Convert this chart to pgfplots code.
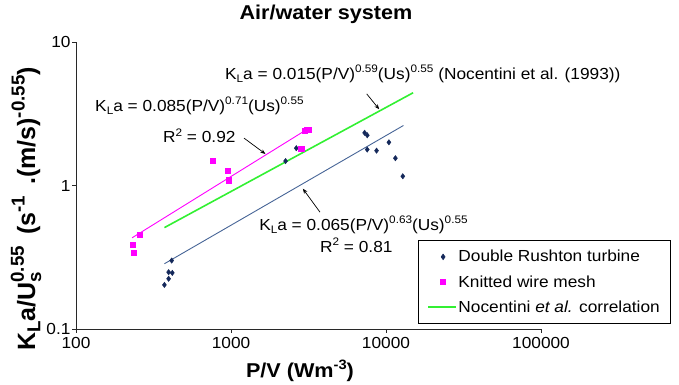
\documentclass[border=0pt]{standalone}
\usepackage{fontspec}
\setmainfont[FakeStretch=1.08]{Liberation Sans}
\newfontfamily\plainsans{Liberation Sans}
\usepackage{pgfplots}
\pgfplotsset{compat=1.18}
\usetikzlibrary{arrows.meta}
\definecolor{navy}{RGB}{20,40,90}
\definecolor{fitblue}{RGB}{70,100,150}
\definecolor{mag}{RGB}{255,0,255}
\definecolor{lgreen}{RGB}{50,240,50}
\definecolor{axgray}{RGB}{40,40,40}
\makeatletter
\newcommand\relsmall{\dimen@=\f@size pt\relax\dimen@=0.68\dimen@\fontsize{\strip@pt\dimen@}{\strip@pt\dimen@}\selectfont}
\newcommand\relmid{\dimen@=\f@size pt\relax\dimen@=0.75\dimen@\fontsize{\strip@pt\dimen@}{\strip@pt\dimen@}\selectfont}
\makeatother
\newcommand\sps[1]{\raisebox{0.8ex}{\relsmall #1}}
\newcommand\sbs[1]{\raisebox{-0.4ex}{\relsmall #1}}
\newcommand\ysps[1]{\raisebox{0.8ex}{\relmid #1}}
\newcommand\ysbs[1]{\raisebox{-0.4ex}{\relmid #1}}
\newcommand\yssp[2]{\rlap{\raisebox{-0.45ex}{\relmid #2}}\raisebox{0.85ex}{\relmid #1}}
\newcommand\annfont{\fontsize{16}{16}\selectfont}
\begin{document}
\begin{tikzpicture}
\begin{axis}[
  scale only axis, width=465pt, height=287pt,
  xmode=log, ymode=log,
  xmin=100, xmax=100000, ymin=0.1, ymax=10,
  axis x line=bottom, axis y line=left,
  axis line style={-, axgray, line width=1pt},
  xtick={100,1000,10000,100000}, xticklabels={100,1000,10000,100000},
  ytick={0.1,1,10}, yticklabels={0.1,1,10},
  xminorticks=false, yminorticks=false,
  tick align=outside, major tick length=4pt,
  tick style={axgray, line width=0.8pt},
  /pgf/number format/assume math mode=true,
  tick label style={font=\fontsize{16}{16}\selectfont},
  xticklabel style={yshift=-1pt},
  yticklabel style={xshift=2pt},
  clip=false,
  title={\bfseries Air/water system},
  title style={font=\fontsize{20}{20}\selectfont, at={(axis description cs:0.5376,1.0592)}, anchor=base},
  xlabel={\bfseries P/V (Wm\sps{-3})},
  xlabel style={font=\fontsize{20}{20}\selectfont, at={(axis description cs:0.4817,-0.146)}, anchor=center},
  ylabel={\plainsans\bfseries K\ysbs{L}a/U\yssp{0.55}{s}\, (s\ysps{-1}\, .(m/s)\ysps{-0.55})},
  ylabel style={font=\fontsize{25}{25}\selectfont, at={(axis description cs:-0.1075,0.418)}, anchor=center},
  legend style={font=\fontsize{16}{16}\selectfont, draw=black, line width=0.6pt,
    at={(axis description cs:0.7355,0.310)}, anchor=north west,
    inner xsep=9pt, inner ysep=8.5pt, row sep=9pt,
    nodes={inner sep=1.5pt}, cells={anchor=west}},
]
\addplot[only marks, mark=diamond*, mark size=2.7pt, color=navy,
  legend image code/.code={\path[draw=none,fill=none] (0pt,0pt) -- (28pt,0pt);
    \fill[navy] (15pt,2.8pt) -- (17pt,0pt) -- (15pt,-2.8pt) -- (13pt,0pt) -- cycle;}]
  coordinates {(2636,1.82) (2249,1.48) (414,0.30) (396,0.249) (418,0.246) (396,0.224) (372,0.203)
  (7278,2.33) (7566,2.24) (7566,1.78) (8690,1.75) (10440,2.00) (11500,1.55) (12830,1.16)};
\addlegendentry{Double Rushton turbine}
\addplot[only marks, mark=square*, mark size=2.6pt, color=mag,
  legend image code/.code={\path[draw=none,fill=none] (0pt,0pt) -- (28pt,0pt);
    \fill[mag] (12.4pt,-2.6pt) rectangle (17.6pt,2.6pt);}]
  coordinates {(3000,2.42) (3080,2.45) (3180,2.45) (2838,1.80) (765,1.48) (957,1.27) (968,1.09)
  (259,0.456) (233,0.388) (237,0.341)};
\addlegendentry{Knitted wire mesh}
\addplot[lgreen, line width=1.6pt, no marks,
  legend image code/.code={\draw[lgreen, line width=1.6pt] (0pt,0pt) -- (28pt,0pt);}]
  coordinates {(372,0.509) (14960,4.43)};
\addlegendentry{Nocentini \textit{et al.} correlation}
\addplot[mag, line width=0.9pt, no marks, forget plot] coordinates {(230,0.432) (3126,2.48)};
\addplot[fitblue, line width=0.9pt, no marks, forget plot] coordinates {(372,0.285) (12960,2.62)};

\node[anchor=base west, inner sep=0pt, font=\annfont] at (axis cs:132.7,3.28)
  {K\sbs{L}a = 0.085(P/V)\sps{0.71}(Us)\sps{0.55}};
\node[anchor=base west, inner sep=0pt, font=\annfont] at (axis cs:364,1.985)
  {R\sps{2} = 0.92};
\node[anchor=base west, inner sep=0pt, font=\annfont] at (axis cs:914,5.48)
  {K\sbs{L}a = 0.015(P/V)\sps{0.59}(Us)\sps{0.55} (Nocentini et al. (1993))};
\node[anchor=base west, inner sep=0pt, font=\annfont] at (axis cs:1517,0.486)
  {K\sbs{L}a = 0.065(P/V)\sps{0.63}(Us)\sps{0.55}};
\node[anchor=base west, inner sep=0pt, font=\annfont] at (axis cs:3750,0.341)
  {R\sps{2} = 0.81};
\draw[-{Stealth[length=5pt,width=4pt]}, line width=0.7pt] (axis cs:1213,2.14) -- (axis cs:1667,1.66);
\draw[-{Stealth[length=5pt,width=4pt]}, line width=0.7pt] (axis cs:7508,4.35) -- (axis cs:9036,3.40);
\draw[-{Stealth[length=5pt,width=4pt]}, line width=0.7pt] (axis cs:3750,0.652) -- (axis cs:2908,0.95);
\end{axis}
\pgfresetboundingbox
\path[use as bounding box] (-76pt,-55pt) rectangle (603pt,329pt);
\end{tikzpicture}
\end{document}
